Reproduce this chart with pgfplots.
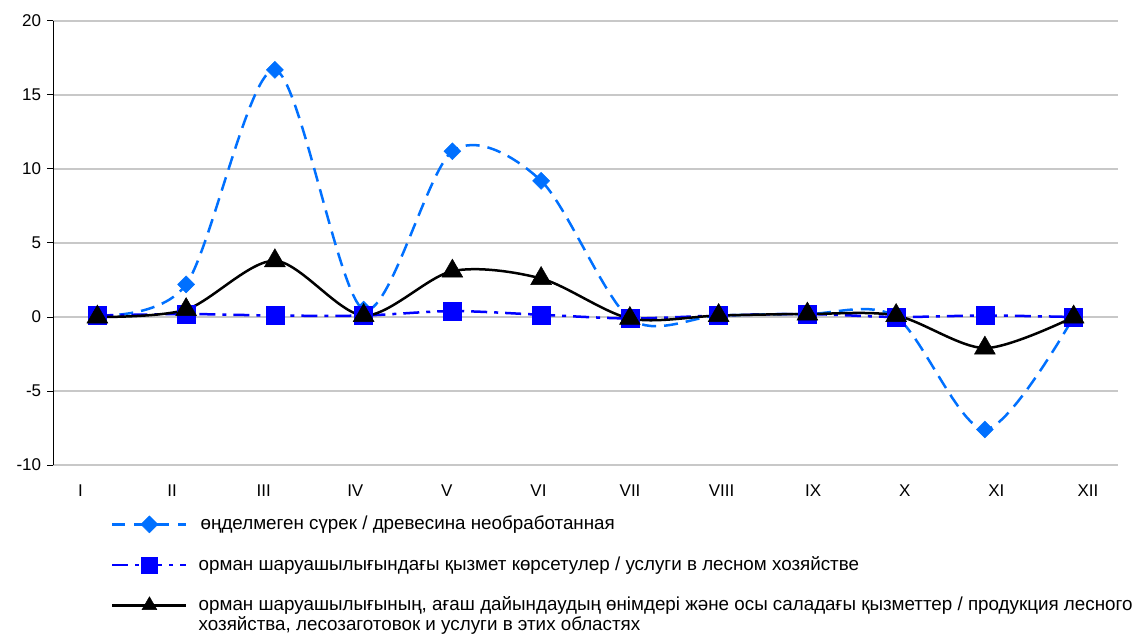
\documentclass[border=0pt]{standalone}
\usepackage{fontspec}
\setmainfont{Liberation Sans}
\usepackage{pgfplots}
\pgfplotsset{compat=1.18}
\definecolor{lblue}{RGB}{0,112,255}
\definecolor{dblue}{RGB}{0,0,255}
\definecolor{gridgray}{RGB}{200,200,200}

\begin{document}
\fontsize{17pt}{18pt}\selectfont
\begin{tikzpicture}
\path[use as bounding box] (-53pt,-169pt) rectangle (1081pt,465pt);
\begin{axis}[
  scale only axis, width=1065pt, height=444pt,
  xmin=-0.5, xmax=11.5, ymin=-10, ymax=20,
  ytick={-10,-5,0,5,10,15,20},
  xtick={-0.19,0.842,1.874,2.906,3.938,4.97,6.002,7.034,8.066,9.098,10.13,11.162},
  xticklabels={I,II,III,IV,V,VI,VII,VIII,IX,X,XI,XII},
  axis x line*=bottom, axis y line*=left,
  x axis line style={draw=gridgray, line width=1.2pt, -},
  y axis line style={black, line width=1pt, -},
  ymajorgrids, grid style={gridgray, line width=1.2pt},
  tick align=outside, major tick length=6pt,
  xtick style={draw=none}, ytick style={black, line width=1pt},
  tick label style={font=\fontsize{17pt}{18pt}\selectfont},
  xticklabel style={yshift=-8pt},
  /pgf/number format/assume math mode=true,
  clip=false,
  legend style={at={(axis description cs:0,0)}, anchor=north west, xshift=55pt, yshift=-47pt,
    draw=none, fill=none, row sep=20pt, font=\fontsize{18.8pt}{18pt}\selectfont,
    cells={anchor=west}},
  legend cell align=left,
  legend image code/.code={\draw[mark repeat=2,mark phase=2] plot coordinates {(0pt,0pt) (37pt,0pt) (74pt,0pt)};},
]
\addplot[forget plot, color=lblue, line width=2.5pt, dash pattern=on 14pt off 8pt, smooth,
  mark=square*, mark size=6pt, mark options={rotate=45, solid, fill=lblue, line width=0.5pt}]
  coordinates {(0,0.1) (1,2.2) (2,16.7) (3,0.5) (4,11.2) (5,9.2) (6,-0.1) (7,0.1) (8,0.2) (9,0.0) (10,-7.6) (11,0.0)};
\addplot[forget plot, color=dblue, line width=2.5pt, dash pattern=on 16pt off 7pt on 4pt off 7pt, smooth,
  mark=square*, mark size=9pt, mark options={solid, fill=dblue, line width=0.5pt}]
  coordinates {(0,0.1) (1,0.2) (2,0.1) (3,0.1) (4,0.4) (5,0.15) (6,-0.1) (7,0.1) (8,0.2) (9,0.0) (10,0.1) (11,0.0)};
\addplot[forget plot, color=black, line width=2.5pt, smooth,
  mark=triangle*, mark size=12pt, mark options={solid, fill=black, line width=0.5pt}]
  coordinates {(0,0.0) (1,0.5) (2,3.8) (3,0.1) (4,3.1) (5,2.6) (6,-0.1) (7,0.1) (8,0.2) (9,0.1) (10,-2.1) (11,0.0)};
\addlegendimage{color=lblue, line width=2.5pt, dash pattern=on 13pt off 9pt,
  mark=square*, mark size=6pt, mark options={rotate=45, solid, fill=lblue, line width=0.5pt}}
\addlegendentry{\hspace{11pt}өңделмеген сүрек / древесина необработанная\rule[-23pt]{0pt}{0pt}}
\addlegendimage{color=dblue, line width=2.5pt, dash pattern=on 16pt off 7pt on 4pt off 7pt,
  mark=square*, mark size=8pt, mark options={solid, fill=dblue, line width=0.5pt}}
\addlegendentry{\hspace{9pt}орман шаруашылығындағы қызмет көрсетулер / услуги в лесном хозяйстве}
\addlegendimage{color=black, line width=2.5pt,
  mark=triangle*, mark size=8.5pt, mark options={solid, fill=black, line width=0.5pt}}
\addlegendentry{\hspace{9pt}\begin{tabular}[t]{@{}l@{}}орман шаруашылығының, ағаш дайындаудың өнімдері және осы саладағы қызметтер / продукция лесного\\хозяйства, лесозаготовок и услуги в этих областях\end{tabular}}
\end{axis}
\end{tikzpicture}
\end{document}
